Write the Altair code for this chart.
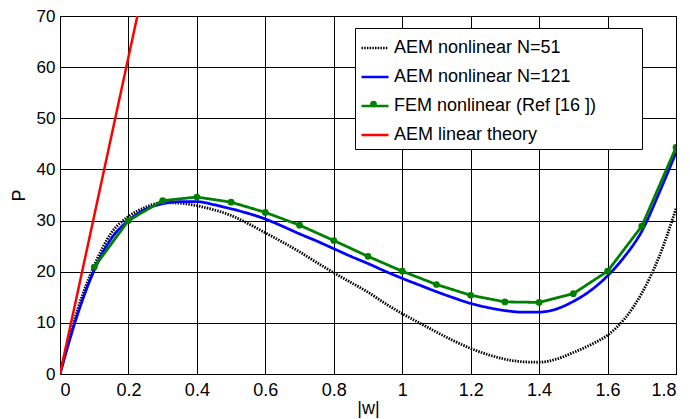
import altair as alt
import pandas as pd

# ---- data ----
series_names = ["AEM nonlinear N=51", "AEM nonlinear N=121",
                "FEM nonlinear (Ref [16 ])", "AEM linear theory"]
series_colors = ["#000000", "#0000FF", "#008000", "#FF0000"]

w_dense = [0.0, 0.05, 0.1, 0.15, 0.2, 0.25, 0.3, 0.35, 0.4, 0.45, 0.5, 0.55,
           0.6, 0.65, 0.7, 0.75, 0.8, 0.85, 0.9, 0.95, 1.0, 1.05, 1.1, 1.15,
           1.2, 1.25, 1.3, 1.35, 1.4, 1.45, 1.5, 1.55, 1.6, 1.65, 1.7, 1.75, 1.8]
p_n51 = [0.0, 12.3, 21.2, 27.6, 30.8, 32.6, 33.5, 33.4, 32.9, 32.1, 31.0, 29.4,
         27.6, 25.8, 23.9, 21.8, 19.8, 17.9, 16.0, 13.8, 11.8, 10.0, 8.2, 6.5,
         5.0, 3.8, 2.9, 2.4, 2.3, 2.9, 4.2, 5.7, 7.6, 10.8, 15.8, 22.8, 32.3]
p_n121 = [0.0, 11.4, 20.3, 26.5, 30.0, 32.2, 33.3, 33.7, 33.7, 33.1, 32.3, 31.4,
          30.3, 28.9, 27.4, 26.0, 24.5, 23.0, 21.6, 20.1, 18.7, 17.4, 16.1, 14.9,
          13.8, 13.0, 12.4, 12.1, 12.1, 12.7, 14.2, 16.3, 19.2, 23.0, 27.9, 35.3, 43.3]
w_fem = [0.1, 0.2, 0.3, 0.4, 0.5, 0.6, 0.7, 0.8, 0.9, 1.0, 1.1, 1.2, 1.3, 1.4,
         1.5, 1.6, 1.7, 1.8]
p_fem = [20.9, 30.0, 33.9, 34.6, 33.6, 31.6, 29.1, 26.1, 23.0, 20.1, 17.5, 15.4,
         14.1, 14.0, 15.7, 20.1, 28.9, 44.3]
w_lin = [0.0, 0.226]
p_lin = [0.0, 70.0]

x_ticks = [0, 0.2, 0.4, 0.6, 0.8, 1.0, 1.2, 1.4, 1.6, 1.8]
y_ticks = [0, 10, 20, 30, 40, 50, 60, 70]

df_n51 = pd.DataFrame({"w": w_dense, "P": p_n51, "series": series_names[0]})
df_n121 = pd.DataFrame({"w": w_dense, "P": p_n121, "series": series_names[1]})
df_fem = pd.DataFrame({"w": w_fem, "P": p_fem, "series": series_names[2]})
df_lin = pd.DataFrame({"w": w_lin, "P": p_lin, "series": series_names[3]})

FONT = "Liberation Sans"
# invisible padding so the legend box is as wide as the reference's
PAD = "\u00a0" * 8 + "\u200b"

x_enc = alt.X("w:Q", scale=alt.Scale(domain=[0, 1.8], nice=False),
              axis=alt.Axis(values=x_ticks, format=".1~f", title="|w|",
                            labelPadding=7, titlePadding=0))
y_enc = alt.Y("P:Q", scale=alt.Scale(domain=[0, 70], nice=False),
              axis=alt.Axis(values=y_ticks, format="d", title="P",
                            labelPadding=5, titlePadding=8))

main_legend = alt.Legend(
    title=None, orient="none", legendX=295, legendY=12,
    symbolType="stroke", symbolSize=729, symbolStrokeWidth=2.5,
    labelFontSize=18, labelFont=FONT, labelColor="black", labelOffset=4,
    labelExpr="datum.label + '" + PAD + "'",
    padding=5, rowPadding=5, fillColor="white", strokeColor="black",
    cornerRadius=0, labelLimit=400,
)

color_enc = alt.Color(
    "series:N",
    scale=alt.Scale(domain=series_names, range=series_colors),
    legend=main_legend,
)
dash_enc = alt.StrokeDash(
    "series:N",
    scale=alt.Scale(domain=series_names, range=[[1.5, 1.2], [1, 0], [1, 0], [1, 0]]),
    legend=main_legend,
)

def line_layer(df, width, interp):
    return alt.Chart(df).mark_line(strokeWidth=width, interpolate=interp, clip=True).encode(
        x=x_enc, y=y_enc, color=color_enc, strokeDash=dash_enc
    )

l_n51 = line_layer(df_n51, 2.8, "monotone")
l_n121 = line_layer(df_n121, 2.8, "monotone")
l_fem = line_layer(df_fem, 2.8, "linear")
l_lin = line_layer(df_lin, 2.5, "linear")

pts_fem = alt.Chart(df_fem).mark_point(filled=True, size=45, opacity=1, clip=True).encode(
    x=x_enc, y=y_enc,
    fill=alt.Fill("series:N",
                  scale=alt.Scale(domain=[series_names[2]], range=["#008000"]),
                  legend=alt.Legend(title=None, orient="none", legendX=310, legendY=84.5,
                                    symbolType="circle", symbolSize=45, padding=0,
                                    labelExpr="''", labelFontSize=1, zindex=2,
                                    symbolStrokeWidth=0, symbolOpacity=1)),
)

chart = alt.layer(l_n51, l_n121, l_fem, pts_fem, l_lin).properties(
    width=616, height=358,
    autosize=alt.AutoSizeParams(type="none"),
    padding={"left": 52, "top": 8, "right": 6, "bottom": 45},
).configure_axis(
    labelFont=FONT, titleFont=FONT, labelFontSize=18, titleFontSize=18,
    titleFontWeight="normal", labelColor="black", titleColor="black",
    domainColor="black", domainWidth=1, gridColor="black", gridOpacity=1,
    gridWidth=1, ticks=False,
).configure_axisY(
    labelFontSize=17,
).configure_view(
    stroke="black", strokeWidth=1,
)

chart.save("out.html", embed_options={"renderer": "svg", "actions": False})
